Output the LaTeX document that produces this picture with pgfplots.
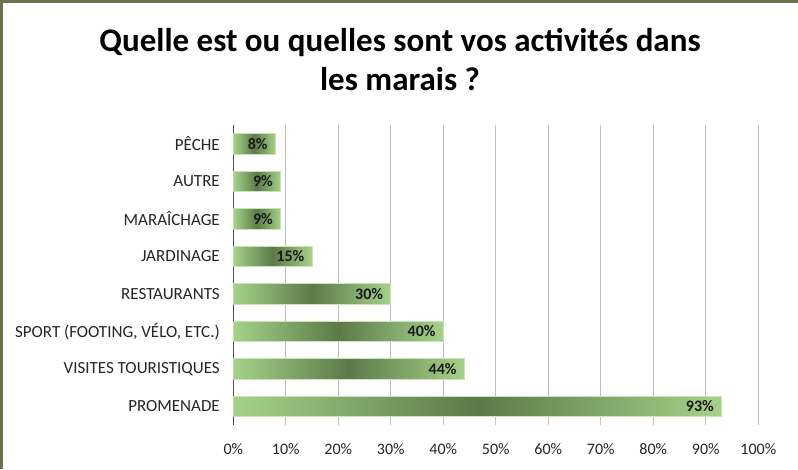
\documentclass[border=0pt]{standalone}
\usepackage{pgfplots}
\pgfplotsset{compat=1.18}
\usepackage{fontspec}
\setmainfont{Carlito}
\definecolor{barlight}{RGB}{165,210,137}
\definecolor{bardark}{RGB}{92,122,72}
\definecolor{olivebord}{RGB}{111,113,78}
\pgfdeclarehorizontalshading{barshade}{100bp}{color(0bp)=(barlight); color(25bp)=(barlight); color(50bp)=(bardark); color(75bp)=(barlight); color(100bp)=(barlight)}
\pgfplotsset{barsty/.style={draw=barlight!60!white, line width=0.7pt, shading=barshade, bar shift=0pt}}
\begin{document}
\begin{tikzpicture}
\useasboundingbox (0pt,0pt) rectangle (798pt,469pt);
\fill[white] (0pt,0pt) rectangle (798pt,469pt);
\fill[olivebord] (0pt,466pt) rectangle (798pt,469pt);
\fill[olivebord] (0pt,0pt) rectangle (2.5pt,469pt);
\node[anchor=base, inner sep=0pt, font=\fontsize{33}{40}\selectfont\bfseries] at (400pt,417pt) {Quelle est ou quelles sont vos activités dans};
\node[anchor=base, inner sep=0pt, font=\fontsize{33}{40}\selectfont\bfseries] at (400pt,378pt) {les marais ?};
\begin{axis}[
  at={(233.3pt,44pt)}, anchor=south west,
  scale only axis, width=525pt, height=300pt,
  xbar, bar width=20.5pt,
  xmin=0, xmax=100, ymin=-0.5, ymax=7.5, y dir=reverse,
  ytick={0,...,7},
  yticklabels={PÊCHE,AUTRE,MARAÎCHAGE,JARDINAGE,RESTAURANTS,{SPORT (FOOTING, VÉLO, ETC.)},VISITES TOURISTIQUES,PROMENADE},
  xtick={0,10,...,100},
  xticklabel={\pgfmathprintnumber{\tick}\%},
  /pgf/number format/assume math mode=true,
  major tick length=0pt, tick style={draw=none},
  xmajorgrids, major grid style={draw=black!25, line width=0.8pt},
  separate axis lines,
  axis x line*=bottom, axis y line*=left,
  x axis line style={draw=none},
  y axis line style={draw=black!70, line width=1.6pt, -},
  yticklabel style={xshift=-10pt, font=\fontsize{17}{20}\selectfont, text=black!85},
  xticklabel style={yshift=-15pt, font=\fontsize{16}{19}\selectfont, text=black!85},
  point meta=x,
  nodes near coords={\pgfmathprintnumber{\pgfplotspointmeta}\%},
  nodes near coords style={anchor=east, xshift=-4pt, font=\fontsize{16}{19}\selectfont\bfseries, text=black!90},
]
\addplot[barsty] coordinates {(8,0)};
\addplot[barsty] coordinates {(9,1)};
\addplot[barsty] coordinates {(9,2)};
\addplot[barsty] coordinates {(15,3)};
\addplot[barsty] coordinates {(30,4)};
\addplot[barsty] coordinates {(40,5)};
\addplot[barsty] coordinates {(44,6)};
\addplot[barsty] coordinates {(93,7)};
\end{axis}
\end{tikzpicture}
\end{document}
